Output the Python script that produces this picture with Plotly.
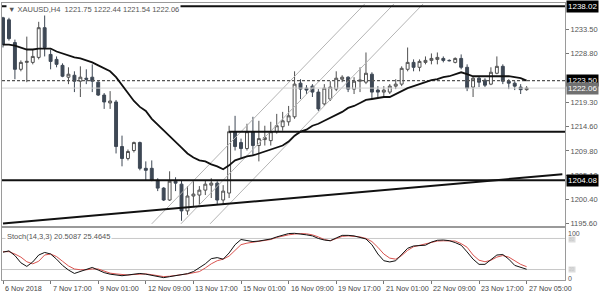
import plotly.graph_objects as go

# ---------------- data ----------------
bars = list(range(89))
opens = [1235.76,1235.37,1230.93,1225.72,1227.07,1227.07,1228.04,1233.83,1228.62,1227.65,
         1226.49,1224.18,1224.56,1223.40,1223.98,1224.18,1223.21,1220.70,1219.16,1219.35,
         1210.67,1208.34,1209.89,1211.44,1206.42,1206.42,1204.10,1202.56,1200.24,1203.91,
         1203.33,1198.12,1201.02,1201.21,1202.17,1203.14,1203.53,1200.24,1201.60,1213.56,
         1211.44,1210.28,1213.56,1210.86,1212.02,1211.82,1213.56,1214.53,1215.49,1216.46,
         1223.02,1222.05,1222.44,1221.28,1218.97,1219.93,1221.86,1223.79,1224.18,1221.86,
         1223.40,1223.21,1224.76,1221.67,1221.28,1221.28,1222.44,1222.83,1225.72,1227.07,
         1226.11,1227.07,1227.46,1227.65,1227.84,1227.46,1227.07,1227.84,1226.11,1222.25,
         1223.98,1223.60,1222.83,1224.95,1226.30,1223.40,1223.02,1222.25,1221.75]
highs = [1235.95,1235.76,1231.51,1227.46,1232.09,1229.58,1234.98,1236.33,1229.58,1228.23,
         1226.88,1226.11,1225.33,1226.30,1225.72,1226.69,1223.40,1221.09,1221.47,1219.74,
         1212.79,1210.09,1211.63,1211.63,1207.77,1207.96,1204.49,1202.75,1205.84,1204.68,
         1204.10,1202.95,1203.91,1202.95,1204.10,1204.49,1203.91,1203.14,1214.72,1216.65,
         1212.21,1215.11,1216.46,1215.68,1214.72,1215.49,1217.03,1217.42,1218.58,1225.33,
         1223.79,1222.63,1222.83,1221.86,1222.83,1223.40,1225.33,1224.56,1224.37,1224.18,
         1226.11,1229.00,1225.14,1222.44,1222.44,1222.83,1223.79,1226.30,1229.97,1227.65,
         1227.65,1228.23,1228.81,1229.00,1228.23,1227.65,1228.04,1228.62,1226.69,1224.37,
         1224.37,1223.98,1226.11,1228.23,1226.69,1223.79,1223.40,1222.83,1222.44]
lows = [1229.97,1231.32,1223.79,1225.33,1223.21,1226.69,1227.65,1228.23,1225.72,1226.11,
        1224.18,1222.83,1221.28,1220.32,1222.83,1221.28,1220.51,1218.00,1218.00,1209.32,
        1206.81,1207.96,1209.51,1206.03,1204.10,1203.91,1201.98,1200.05,1200.05,1201.98,
        1196.19,1197.35,1199.09,1199.28,1201.21,1200.63,1199.28,1199.28,1200.63,1209.89,
        1208.35,1209.89,1208.93,1207.77,1210.86,1210.86,1213.18,1213.75,1214.72,1216.07,
        1219.93,1220.90,1220.32,1217.61,1218.58,1219.54,1221.47,1223.21,1221.28,1220.90,
        1221.28,1222.83,1219.93,1220.32,1220.12,1220.90,1221.86,1222.44,1225.33,1225.33,
        1225.33,1226.69,1226.69,1226.69,1227.07,1227.26,1226.88,1225.72,1221.47,1220.32,
        1222.25,1222.25,1222.63,1224.76,1222.83,1221.86,1221.67,1220.90,1221.54]
closes = [1230.55,1231.70,1225.72,1227.07,1227.26,1228.23,1233.83,1229.97,1227.26,1226.69,
          1224.37,1224.76,1223.40,1224.18,1223.79,1223.40,1220.70,1219.35,1219.54,1210.67,
          1208.34,1209.70,1211.44,1206.42,1206.03,1204.10,1202.56,1200.24,1203.91,1203.53,
          1198.12,1201.02,1201.40,1202.17,1203.33,1203.53,1200.24,1201.98,1213.56,1210.67,
          1210.28,1213.56,1210.86,1212.21,1212.40,1213.56,1214.72,1215.68,1216.65,1222.83,
          1221.86,1221.67,1221.28,1218.00,1222.05,1222.25,1223.98,1224.18,1221.86,1223.40,
          1223.60,1224.95,1221.28,1221.28,1221.67,1222.44,1222.83,1225.91,1227.07,1226.11,
          1227.26,1227.46,1227.84,1228.04,1227.46,1227.40,1227.84,1226.11,1222.05,1223.98,
          1223.21,1222.63,1225.14,1226.30,1223.40,1223.02,1222.44,1221.75,1222.06]
ma20 = [1230.55,1230.55,1230.35,1229.97,1229.58,1229.58,1229.77,1229.77,1229.77,1229.19,
        1228.81,1228.42,1228.04,1227.84,1227.46,1227.07,1226.49,1225.91,1225.33,1224.18,
        1222.63,1220.90,1219.54,1218.39,1217.61,1216.07,1214.91,1213.75,1212.79,1211.63,
        1210.47,1209.32,1208.54,1207.96,1207.77,1207.19,1206.81,1206.23,1207.00,1207.96,
        1208.35,1208.74,1208.93,1209.32,1209.70,1210.09,1210.47,1210.86,1211.63,1212.79,
        1213.56,1213.95,1214.72,1215.11,1215.68,1216.26,1216.84,1217.42,1218.19,1218.58,
        1219.16,1219.74,1219.93,1220.12,1220.32,1220.32,1220.90,1221.47,1222.05,1222.44,
        1222.83,1223.21,1223.60,1223.79,1224.18,1224.37,1224.76,1225.14,1224.76,1224.37,
        1224.37,1224.37,1224.37,1224.37,1224.37,1224.37,1224.18,1223.98,1223.50]
stoch_k = [53.5,56,47,33,26,34.6,48,53,50,40,28,19,12.4,16,21,24,19,14,11,9,
           8,9.5,11,12.4,11,8.5,6,4.3,6.2,8,10,12,16,23,31,41,43,40,52,68,
           78,76,74,75,77,79,83,87,89.5,90,89,87,85,80,77,75.6,81,86,86,85,
           82,79,68,50,37,34.6,37,50,61,65.5,66,67,73,76.5,77,75.8,72,67,54,40,
           30,30,39,48,49,40,28,24,20.5087]
stoch_d = [54.5,54.5,50,44,35,31,36,48,50,45,36,27,21,19.5,19.5,21,21,17,13,11.5,
           10,9.4,10.5,11.5,11.5,10,8,6.3,7,8,10,11.5,14,16,23,31,37,40,46,58,
           68,71,73,74,76,78,82,85,87,88.5,89.5,89,87,83,78,75.6,80,84,85,84,
           83,80,74,63,50,42,40,47,57,64,67,69,73,75,75.5,75.5,75,70,63,48,
           38,35,38,44,47,44,37,30,25.4645]

tick_bars = [0, 8, 16, 24, 32, 40, 48, 56, 64, 72, 80, 88]
tick_labels = ["6 Nov 2018", "7 Nov 17:00", "9 Nov 01:00", "12 Nov 09:00", "13 Nov 17:00",
               "15 Nov 01:00", "16 Nov 09:00", "19 Nov 17:00", "21 Nov 01:00",
               "22 Nov 09:00", "23 Nov 17:00", "27 Nov 05:00"]
price_ticks = [1195.60, 1200.40, 1205.10, 1209.80, 1214.60, 1219.30, 1228.80, 1233.50]

resistance_top = 1238.02
level_dashed = 1223.50
bid_price = 1222.06
support_mid = 1213.56
support_mid_start = 38
support_low = 1204.08
trend_bars = [0, 94]
trend_prices = [1195.65, 1205.25]
channel_start_bars = [25.0, 29.9, 34.8]
channel_end_bars = [60.8, 65.7, 70.6]
channel_start_price = 1195.6
channel_end_price = 1238.46

header = "\u25bc XAUUSD,H4  1221.75 1222.44 1221.54 1222.06"
stoch_header = "Stoch(14,3,3) 20.5087 25.4645"

# ---------------- figure ----------------
FONT = "Liberation Sans"
W, H = 600, 301
XL, XR = 2 / W, 565 / W
main_dom = [1 - 228 / H, 1 - 3 / H]
sto_dom = [1 - 283 / H, 1 - 230 / H]
xr = [-0.17, 94.45]

fig = go.Figure()

# channel lines
for b0, b1 in zip(channel_start_bars, channel_end_bars):
    fig.add_trace(go.Scatter(x=[b0, b1], y=[channel_start_price, channel_end_price],
                             mode="lines", line=dict(color="#b4b4b4", width=1),
                             hoverinfo="skip", showlegend=False, xaxis="x", yaxis="y"))
# bid line
fig.add_trace(go.Scatter(x=[xr[0], xr[1]], y=[bid_price, bid_price], mode="lines",
                         line=dict(color="#d0d0d0", width=1), hoverinfo="skip",
                         showlegend=False, xaxis="x", yaxis="y"))
# dashed level
fig.add_trace(go.Scatter(x=[xr[0], xr[1]], y=[level_dashed, level_dashed], mode="lines",
                         line=dict(color="#555555", width=1.2, dash="3px,2px"),
                         hoverinfo="skip", showlegend=False, xaxis="x", yaxis="y"))
# horizontal levels
for x0, p in [(xr[0], resistance_top), (support_mid_start, support_mid), (xr[0], support_low)]:
    fig.add_trace(go.Scatter(x=[x0, xr[1]], y=[p, p], mode="lines",
                             line=dict(color="#111111", width=2), hoverinfo="skip",
                             showlegend=False, xaxis="x", yaxis="y"))
# rising trend line
fig.add_trace(go.Scatter(x=trend_bars, y=trend_prices, mode="lines",
                         line=dict(color="#111111", width=2), hoverinfo="skip",
                         showlegend=False, xaxis="x", yaxis="y"))
# candles
fig.add_trace(go.Candlestick(
    x=bars, open=opens, high=highs, low=lows, close=closes,
    increasing=dict(fillcolor="#ffffff", line=dict(color="#505050", width=1)),
    decreasing=dict(fillcolor="#3e4855", line=dict(color="#3e4855", width=1)),
    whiskerwidth=0, showlegend=False, xaxis="x", yaxis="y"))
# moving average
fig.add_trace(go.Scatter(x=bars, y=ma20, mode="lines", line=dict(color="#111111", width=1.8),
                         hoverinfo="skip", showlegend=False, xaxis="x", yaxis="y"))

# stochastic
for lv in [80, 20]:
    fig.add_trace(go.Scatter(x=[xr[0], xr[1]], y=[lv, lv], mode="lines",
                             line=dict(color="#c8c8c8", width=1), hoverinfo="skip",
                             showlegend=False, xaxis="x2", yaxis="y2"))
fig.add_trace(go.Scatter(x=bars, y=stoch_d, mode="lines", line=dict(color="#d9534f", width=1),
                         hoverinfo="skip", showlegend=False, xaxis="x2", yaxis="y2"))
fig.add_trace(go.Scatter(x=bars, y=stoch_k, mode="lines", line=dict(color="#111111", width=1),
                         hoverinfo="skip", showlegend=False, xaxis="x2", yaxis="y2"))

ann = []
# price boxes
for p, bg in [(resistance_top, "#000000"), (level_dashed, "#000000"),
              (bid_price, "#707070"), (support_low, "#000000")]:
    ann.append(dict(x=XR + 1 / W, xref="paper", y=p, yref="y", xanchor="left",
                    text=f"{p:.2f}", showarrow=False, bgcolor=bg, borderpad=1,
                    font=dict(family=FONT, size=8, color="#ffffff")))
# header texts
ann.append(dict(x=6 / W, xref="paper", y=1 - 3 / H, yref="paper", xanchor="left",
                yanchor="top", text=header, showarrow=False, bgcolor="#ffffff",
                font=dict(family=FONT, size=7.5, color="#555555")))
ann.append(dict(x=5 / W, xref="paper", y=1 - 232 / H, yref="paper", xanchor="left",
                yanchor="top", text=stoch_header, showarrow=False, bgcolor="#ffffff",
                font=dict(family=FONT, size=7.5, color="#555555")))
# stoch axis labels
ann.append(dict(x=XR + 2 / W, xref="paper", y=100, yref="y2", xanchor="left", yanchor="top",
                yshift=-1, borderpad=0, text="100", showarrow=False,
                font=dict(family=FONT, size=7, color="#555555")))
ann.append(dict(x=XR + 2 / W, xref="paper", y=0, yref="y2", xanchor="left", yanchor="bottom",
                yshift=-3, borderpad=0, text="0", showarrow=False,
                font=dict(family=FONT, size=7, color="#555555")))
for lv, sh in [(80, -1), (20, 0)]:
    ann.append(dict(x=XR + 3 / W, xref="paper", y=lv, yref="y2", xanchor="left",
                    yshift=sh, text=str(lv), showarrow=False, bgcolor="#dcdcdc", borderpad=0,
                    font=dict(family=FONT, size=4.5, color="#c4c4c4")))
# time labels
for b, t in zip(tick_bars, tick_labels):
    ann.append(dict(x=b, xref="x2", y=1 - 285 / H, yref="paper", xanchor="left",
                    yanchor="top", text=t, showarrow=False,
                    font=dict(family=FONT, size=7.2, color="#444444")))

fig.update_layout(
    width=W, height=H, margin=dict(l=0, r=0, t=0, b=0),
    paper_bgcolor="#ffffff", plot_bgcolor="#ffffff",
    font=dict(family=FONT, size=8, color="#444444"),
    showlegend=False, annotations=ann,
    xaxis=dict(domain=[XL, XR], range=xr, anchor="y", showticklabels=False, showgrid=False,
               zeroline=False, rangeslider=dict(visible=False), showline=True,
               linecolor="#9a9a9a", mirror=True, ticks=""),
    yaxis=dict(domain=main_dom, range=[1195.23, 1238.65], side="right", anchor="x",
               tickvals=price_ticks, ticktext=[f"{v:.2f}" for v in price_ticks],
               ticks="outside", ticklen=3, tickcolor="#777777", showgrid=False,
               zeroline=False, showline=True, linecolor="#9a9a9a", mirror=True,
               tickfont=dict(family=FONT, size=7.5, color="#555555")),
    xaxis2=dict(domain=[XL, XR], range=xr, anchor="y2", matches="x", showgrid=False,
                zeroline=False, showline=True, linecolor="#9a9a9a", mirror=True,
                tickvals=tick_bars, ticks="outside", ticklen=3, tickcolor="#777777",
                showticklabels=False),
    yaxis2=dict(domain=sto_dom, range=[-0.6, 100.8], side="right", anchor="x2",
                showticklabels=False, ticks="", showgrid=False, zeroline=False,
                showline=True, linecolor="#9a9a9a", mirror=True),
)

fig.write_html("out.html")
